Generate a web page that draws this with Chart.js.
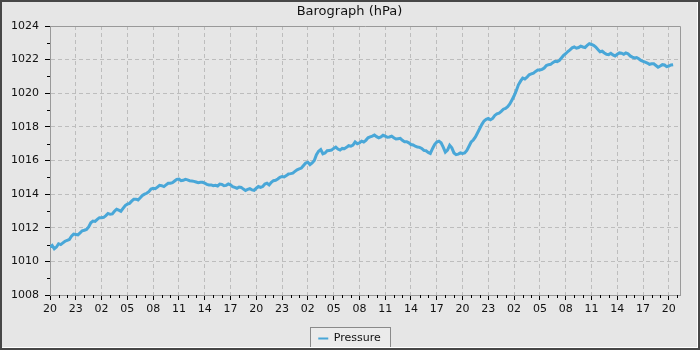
<!DOCTYPE html>
<html>
<head>
<meta charset="utf-8">
<script src="https://cdn.jsdelivr.net/npm/chart.js@4.4.1/dist/chart.umd.min.js"></script>
<style>
  html, body { margin: 0; padding: 0; background: #e6e6e6; }
  #frame { width: 700px; height: 350px; box-sizing: border-box; border: 2px solid #474747; }
  #inner { width: 695px; height: 345px; border-right: 1px solid #fff; border-bottom: 1px solid #fff; overflow: hidden; }
  #wrap { position: relative; width: 695px; height: 352px; }
</style>
</head>
<body>
<div id="frame"><div id="inner"><div id="wrap"><canvas id="baro"></canvas></div></div></div>
<script>
// hours since 20:00 on the first day, one reading every quarter hour
const startHour = 20;
const stepHours = 0.25;
const pressure = [
  1010.85, 1010.95, 1010.75, 1010.85, 1011.05, 1011.0, 1011.1, 1011.2, 1011.25, 1011.3,
  1011.5, 1011.62, 1011.6, 1011.58, 1011.7, 1011.82, 1011.85, 1011.9, 1012.05, 1012.3,
  1012.4, 1012.38, 1012.5, 1012.6, 1012.6, 1012.62, 1012.72, 1012.85, 1012.8, 1012.82,
  1012.98, 1013.1, 1013.05, 1012.98, 1013.15, 1013.32, 1013.4, 1013.45, 1013.58, 1013.7,
  1013.7, 1013.65, 1013.78, 1013.92, 1014.0, 1014.05, 1014.15, 1014.3, 1014.35, 1014.32,
  1014.42, 1014.52, 1014.5, 1014.45, 1014.55, 1014.65, 1014.65, 1014.68, 1014.78, 1014.88,
  1014.9, 1014.8, 1014.82, 1014.88, 1014.85, 1014.8, 1014.78, 1014.76, 1014.72, 1014.68,
  1014.7, 1014.7, 1014.65, 1014.58, 1014.55, 1014.55, 1014.5, 1014.52, 1014.48, 1014.6,
  1014.58, 1014.5, 1014.52, 1014.6, 1014.55, 1014.45, 1014.4, 1014.35, 1014.42, 1014.4,
  1014.3, 1014.22, 1014.28, 1014.32, 1014.25, 1014.22, 1014.35, 1014.45, 1014.4, 1014.45,
  1014.6, 1014.65, 1014.55, 1014.7, 1014.8, 1014.82, 1014.9, 1015.0, 1015.05, 1015.02,
  1015.1, 1015.2, 1015.22, 1015.25, 1015.35, 1015.45, 1015.5, 1015.55, 1015.7, 1015.85,
  1015.9, 1015.75, 1015.85, 1016.0, 1016.35, 1016.55, 1016.65, 1016.4, 1016.45, 1016.58,
  1016.6, 1016.62, 1016.72, 1016.8, 1016.68, 1016.62, 1016.72, 1016.7, 1016.78, 1016.88,
  1016.85, 1016.92, 1017.1, 1017.0, 1017.05, 1017.15, 1017.1, 1017.2, 1017.35, 1017.4,
  1017.45, 1017.52, 1017.42, 1017.35, 1017.4, 1017.5, 1017.45, 1017.38, 1017.4, 1017.45,
  1017.35, 1017.28, 1017.3, 1017.32, 1017.2, 1017.12, 1017.12, 1017.05, 1016.95, 1016.92,
  1016.85, 1016.8, 1016.78, 1016.72, 1016.6, 1016.58, 1016.48, 1016.42, 1016.7, 1016.95,
  1017.1, 1017.15, 1017.05, 1016.8, 1016.5, 1016.62, 1016.9, 1016.75, 1016.45, 1016.35,
  1016.38, 1016.45, 1016.42, 1016.45, 1016.6, 1016.85, 1017.1, 1017.22, 1017.4, 1017.65,
  1017.9, 1018.15, 1018.35, 1018.45, 1018.5, 1018.42, 1018.5, 1018.68, 1018.78, 1018.82,
  1018.92, 1019.05, 1019.1, 1019.2, 1019.36, 1019.6, 1019.85, 1020.15, 1020.5, 1020.72,
  1020.9, 1020.85, 1020.95, 1021.1, 1021.15, 1021.2, 1021.3, 1021.38, 1021.38, 1021.42,
  1021.5, 1021.65, 1021.7, 1021.72, 1021.82, 1021.9, 1021.88, 1021.95, 1022.1, 1022.25,
  1022.35, 1022.48, 1022.58, 1022.7, 1022.75, 1022.68, 1022.72, 1022.8, 1022.75, 1022.72,
  1022.85, 1022.95, 1022.9, 1022.85, 1022.75, 1022.6, 1022.47, 1022.5, 1022.4, 1022.32,
  1022.3, 1022.38, 1022.28, 1022.22, 1022.32, 1022.4, 1022.38, 1022.32, 1022.4, 1022.35,
  1022.22, 1022.15, 1022.1, 1022.12, 1022.05, 1021.95, 1021.9, 1021.85, 1021.8, 1021.72,
  1021.75, 1021.75, 1021.65, 1021.55, 1021.62, 1021.7, 1021.68, 1021.58, 1021.62, 1021.68,
  1021.7
];

const lineColor = "#49a7d8";
const points = pressure.map((p, i) => ({ x: i * stepHours, y: p }));

const hourLabel = (v) => ("0" + ((startHour + v) % 24)).slice(-2);

// frame of plot area, minor ticks and the boxed legend
const decorations = {
  id: "decorations",
  beforeDraw(chart) {
    const ctx = chart.ctx;
    const hb = chart.legend.legendHitBoxes[0];
    if (!hb) return;
    ctx.save();
    ctx.fillStyle = "#ebebeb";
    ctx.strokeStyle = "#8a8a8a";
    ctx.lineWidth = 1;
    const x = Math.round(hb.left - 8) + 0.5;
    const y = Math.round(hb.top - 6) + 0.5;
    const w = Math.round(hb.width + 18);
    const h = Math.round(hb.height + 14);
    ctx.fillRect(x, y, w, h);
    ctx.strokeRect(x, y, w, h);
    ctx.restore();
  },
  afterDraw(chart) {
    const { ctx, chartArea: a } = chart;
    const xs = chart.scales.x;
    const ys = chart.scales.y;
    ctx.save();
    ctx.strokeStyle = "#000";
    ctx.lineWidth = 1;
    ctx.beginPath();
    for (let h = 1; h < xs.max; h++) {
      if (h % 3 === 0) continue;
      const px = Math.round(xs.getPixelForValue(h)) + 0.5;
      ctx.moveTo(px, a.bottom);
      ctx.lineTo(px, a.bottom + 3);
    }
    for (let v = ys.min + 1; v < ys.max; v += 2) {
      const py = Math.round(ys.getPixelForValue(v)) + 0.5;
      ctx.moveTo(a.left - 3, py);
      ctx.lineTo(a.left, py);
    }
    ctx.stroke();
    ctx.strokeStyle = "#999";
    ctx.beginPath();
    ctx.moveTo(Math.round(a.left) + 0.5, Math.round(a.top) + 0.5);
    ctx.lineTo(Math.round(a.right) + 0.5, Math.round(a.top) + 0.5);
    ctx.lineTo(Math.round(a.right) + 0.5, Math.round(a.bottom) + 0.5);
    ctx.stroke();
    ctx.restore();
  },
};

Chart.defaults.font.family = "'DejaVu Sans', sans-serif";
Chart.defaults.color = "#111";

new Chart(document.getElementById("baro"), {
  type: "line",
  data: {
    datasets: [
      {
        label: "Pressure",
        data: points,
        borderColor: lineColor,
        backgroundColor: lineColor,
        borderWidth: 3,
        pointRadius: 0,
        tension: 0,
      },
    ],
  },
  options: {
    responsive: true,
    maintainAspectRatio: false,
    animation: false,
    layout: { padding: 0 },
    scales: {
      x: {
        type: "linear",
        min: 0,
        max: 73.3,
        afterFit(scale) { scale.height = 33; },
        ticks: {
          stepSize: 3,
          autoSkip: false,
          includeBounds: false,
          maxRotation: 0,
          padding: 3,
          font: { size: 11 },
          callback: (v) => hourLabel(v),
        },
        grid: { color: "#bdbdbd", tickColor: "#000", tickLength: 5 },
        border: { color: "#999", dash: [4, 3] },
      },
      y: {
        min: 1008,
        max: 1024,
        afterFit(scale) { scale.width = 48; },
        ticks: { stepSize: 2, padding: 6, font: { size: 11 }, callback: (v) => String(v) },
        grid: { color: "#bdbdbd", tickColor: "#000", tickLength: 5 },
        border: { color: "#999", dash: [4, 3] },
      },
      // empty right-hand strip so the legend and title stay centred on the canvas
      y2: {
        position: "right",
        min: 1008,
        max: 1024,
        afterFit(scale) { scale.width = 17; },
        ticks: { display: false },
        grid: { display: false },
        border: { display: false },
      },
    },
    plugins: {
      title: {
        display: true,
        text: "Barograph (hPa)",
        color: "#111",
        font: { size: 13, weight: "normal" },
        padding: { top: 2, bottom: 6.4 },
      },
      legend: {
        position: "bottom",
        labels: {
          boxWidth: 10,
          boxHeight: 2,
          padding: 5,
          font: { size: 11 },
          generateLabels(chart) {
            const items = Chart.defaults.plugins.legend.labels.generateLabels(chart);
            items.forEach((it) => { it.lineWidth = 0; });
            return items;
          },
        },
      },
      tooltip: { enabled: false },
    },
  },
  plugins: [decorations],
});
</script>
</body>
</html>
